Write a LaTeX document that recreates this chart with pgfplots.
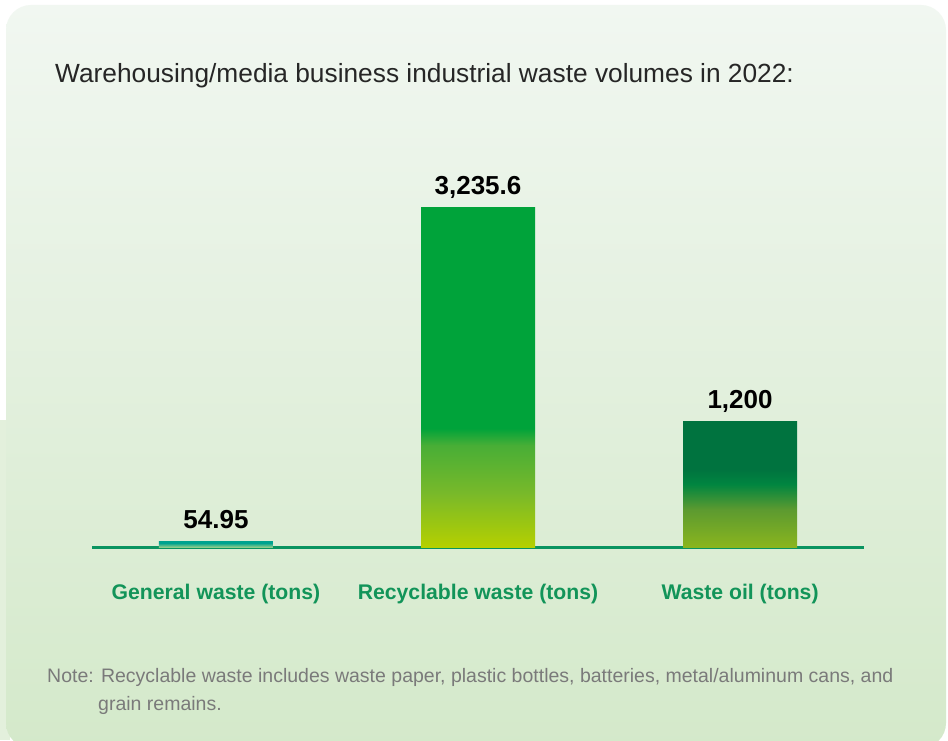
\documentclass[border=0pt]{standalone}
\usepackage{pgfplots}
\pgfplotsset{compat=1.18}
\usepackage{fontspec}
\setmainfont{Liberation Sans}
\definecolor{bgtop}{HTML}{F1F7F1}
\definecolor{bgbot}{HTML}{D4E9CA}
\definecolor{leftstrip}{HTML}{E3F0DC}
\definecolor{axisgreen}{HTML}{0A9460}
\definecolor{labelgreen}{HTML}{129459}
\definecolor{notegray}{HTML}{7A7A7A}
\definecolor{titlegray}{HTML}{262626}
% bar 1
\definecolor{aone}{HTML}{8ECC8B}
\definecolor{atwo}{HTML}{00A38F}
% bar 2
\definecolor{bone}{HTML}{B5D000}
\definecolor{btwo}{HTML}{78B92A}
\definecolor{bthree}{HTML}{48AE36}
\definecolor{bfour}{HTML}{00A33A}
% bar 3
\definecolor{cone}{HTML}{8AB51E}
\definecolor{ctwo}{HTML}{5C9A30}
\definecolor{cthree}{HTML}{008540}
\definecolor{cfour}{HTML}{00733F}
\pgfdeclareverticalshading{barA}{100bp}{color(0bp)=(aone); color(25bp)=(aone); color(60bp)=(atwo); color(100bp)=(atwo)}
\pgfdeclareverticalshading{barB}{100bp}{color(0bp)=(bone); color(25bp)=(bone); color(33bp)=(btwo); color(40bp)=(bthree); color(42.5bp)=(bfour); color(100bp)=(bfour)}
\pgfdeclareverticalshading{barC}{100bp}{color(0bp)=(cone); color(25bp)=(cone); color(40bp)=(ctwo); color(50bp)=(cthree); color(56bp)=(cfour); color(100bp)=(cfour)}
\begin{document}
\begin{tikzpicture}
\fill[white] (0,0) rectangle (948pt,740pt);
\fill[leftstrip] (0,0) rectangle (10pt,320pt);
\shade[top color=bgtop, bottom color=bgbot, rounded corners=25pt] (6pt,-8pt) rectangle (946pt,735pt);
\node[anchor=base west, text=titlegray, font=\fontsize{26.3}{30}\selectfont, inner sep=0pt] at (55pt,657pt) {Warehousing/media business industrial waste volumes in 2022:};
\node[anchor=base west, text=notegray, font=\fontsize{19.5}{23}\selectfont, inner sep=0pt] at (47pt,58pt) {Note: Recyclable waste includes waste paper, plastic bottles, batteries, metal/aluminum cans, and};
\node[anchor=base west, text=notegray, font=\fontsize{19.5}{23}\selectfont, inner sep=0pt] at (98pt,30pt) {grain remains.};
\begin{axis}[
  at={(92pt,193pt)}, anchor=south west,
  scale only axis, width=772pt, height=397pt,
  xmin=-0.473, xmax=2.473, ymin=0, ymax=3789,
  axis x line*=bottom, axis y line=none,
  x axis line style={line width=3pt, draw=axisgreen},
  xtick={0,1,2},
  xticklabels={General waste (tons), Recyclable waste (tons), Waste oil (tons)},
  major tick length=0pt,
  xticklabel style={font=\fontsize{21.2}{25}\selectfont\bfseries, text=labelgreen, anchor=base, yshift=-52pt},
  ybar, bar width=114pt, bar shift=0pt,
  clip=false,
  nodes near coords,
  point meta=explicit symbolic,
  nodes near coords style={font=\fontsize{26}{30}\selectfont\bfseries, text=black, anchor=base, yshift=13pt},
]
\addplot[draw=none, shade, shading=barA] coordinates {(0,54.95) [54.95]};
\addplot[draw=none, shade, shading=barB] coordinates {(1,3235.6) [{3,235.6}]};
\addplot[draw=none, shade, shading=barC] coordinates {(2,1200) [{1,200}]};
\end{axis}
\pgfresetboundingbox
\path (0,0) rectangle (948pt,740pt);
\end{tikzpicture}
\end{document}
